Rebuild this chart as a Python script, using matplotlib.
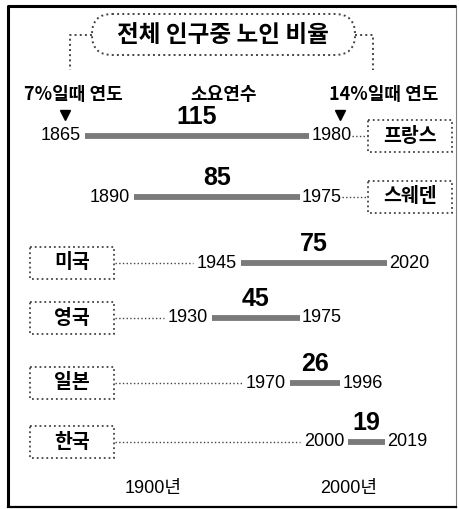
import matplotlib.pyplot as plt
from matplotlib.patches import Rectangle, FancyBboxPatch

# data
countries = ['프랑스', '스웨덴', '미국', '영국', '일본', '한국']
start_years = [1865, 1890, 1945, 1930, 1970, 2000]
end_years = [1980, 1975, 2020, 1975, 1996, 2019]
years_needed = [115, 85, 75, 45, 26, 19]
axis_years = [1900, 2000]
axis_labels = ['1900년', '2000년']
title = '전체 인구중 노인 비율'
headers = ['7%일때 연도', '소요연수', '14%일때 연도']

# layout (pixels)
W, H = 460, 509
row_y = [136, 197, 263, 318, 383, 442]
box_side = ['right', 'right', 'left', 'left', 'left', 'left']
PX0, YR0, PX_PER_YR = 85, 1865, 1.95

def yr2px(y):
    return PX0 + (y - YR0) * PX_PER_YR

def px2yr(p):
    return YR0 + (p - PX0) / PX_PER_YR

KR = ['Noto Sans CJK KR', 'DejaVu Sans']
NUM = ['Liberation Sans', 'Noto Sans CJK KR']

fig = plt.figure(figsize=(4.6, 5.09), dpi=100)
ax = fig.add_axes([0, 0, 1, 1])
ax.set_xlim(0, W)
ax.set_ylim(H, 0)
ax.axis('off')

# data axes: x in years, same pixel y
axd = fig.add_axes([0, 0, 1, 1])
axd.set_xlim(px2yr(0), px2yr(W))
axd.set_ylim(H, 0)
axd.axis('off')

# outer frame
ax.plot([8, 8, 456], [507, 6, 6], color='black', lw=2.2, solid_capstyle='butt')
ax.plot([8, 456], [507, 507], color='black', lw=1.6)
ax.plot([456, 456], [6, 507], color='black', lw=0.8, alpha=0.5)

# title pill and brackets
pill = FancyBboxPatch((92, 14), 263, 41, boxstyle='round,pad=0,rounding_size=20',
                      fc='white', ec='#444444', lw=1.4, ls=':')
ax.add_patch(pill)
ax.text(223, 35, title, ha='center', va='center', fontsize=17,
        fontweight='bold', family=KR)
ax.plot([92, 70, 70], [35, 35, 70], color='#444444', lw=1.4, ls=':')
ax.plot([355, 373, 373], [35, 35, 70], color='#444444', lw=1.4, ls=':')

# headers
for x, h in zip([73, 224, 384], headers):
    ax.text(x, 94, h, ha='center', va='center', fontsize=13,
            fontweight='bold', family=KR)
ax.plot([65, 340], [115, 115], 'v', color='black', ms=7)

# rows
for c, s, e, n, y, side in zip(countries, start_years, end_years,
                               years_needed, row_y, box_side):
    axd.plot([s, e], [y, y], color='#7a7a7a', lw=4.2, solid_capstyle='butt')
    axd.annotate(str(s), (s, y), xytext=(-3, 0), textcoords='offset points',
                 ha='right', va='center', fontsize=13, family=NUM)
    axd.annotate(str(e), (e, y), xytext=(1.5, 0), textcoords='offset points',
                 ha='left', va='center', fontsize=13, family=NUM)
    axd.annotate(str(n), ((s + e) / 2, y), xytext=(0, 14), textcoords='offset points',
                 ha='center', va='center', fontsize=18, fontweight='bold', family=NUM)
    if side == 'right':
        bx = 368
        ax.plot([yr2px(e) + 43, bx], [y, y], color='#444444', lw=1, ls=':')
    else:
        bx = 30
        ax.plot([115, yr2px(s) - 48], [y, y], color='#444444', lw=1, ls=':')
    ax.add_patch(Rectangle((bx, y - 16), 84, 32, fc='white', ec='#444444',
                           lw=1.3, ls=':'))
    ax.text(bx + 42, y, c, ha='center', va='center', fontsize=14,
            fontweight='bold', family=KR)

# year axis labels
for yr, lab in zip(axis_years, axis_labels):
    axd.text(yr, 488, lab, ha='center', va='center', fontsize=13, family=NUM)

fig.savefig('out.png', dpi=100)
